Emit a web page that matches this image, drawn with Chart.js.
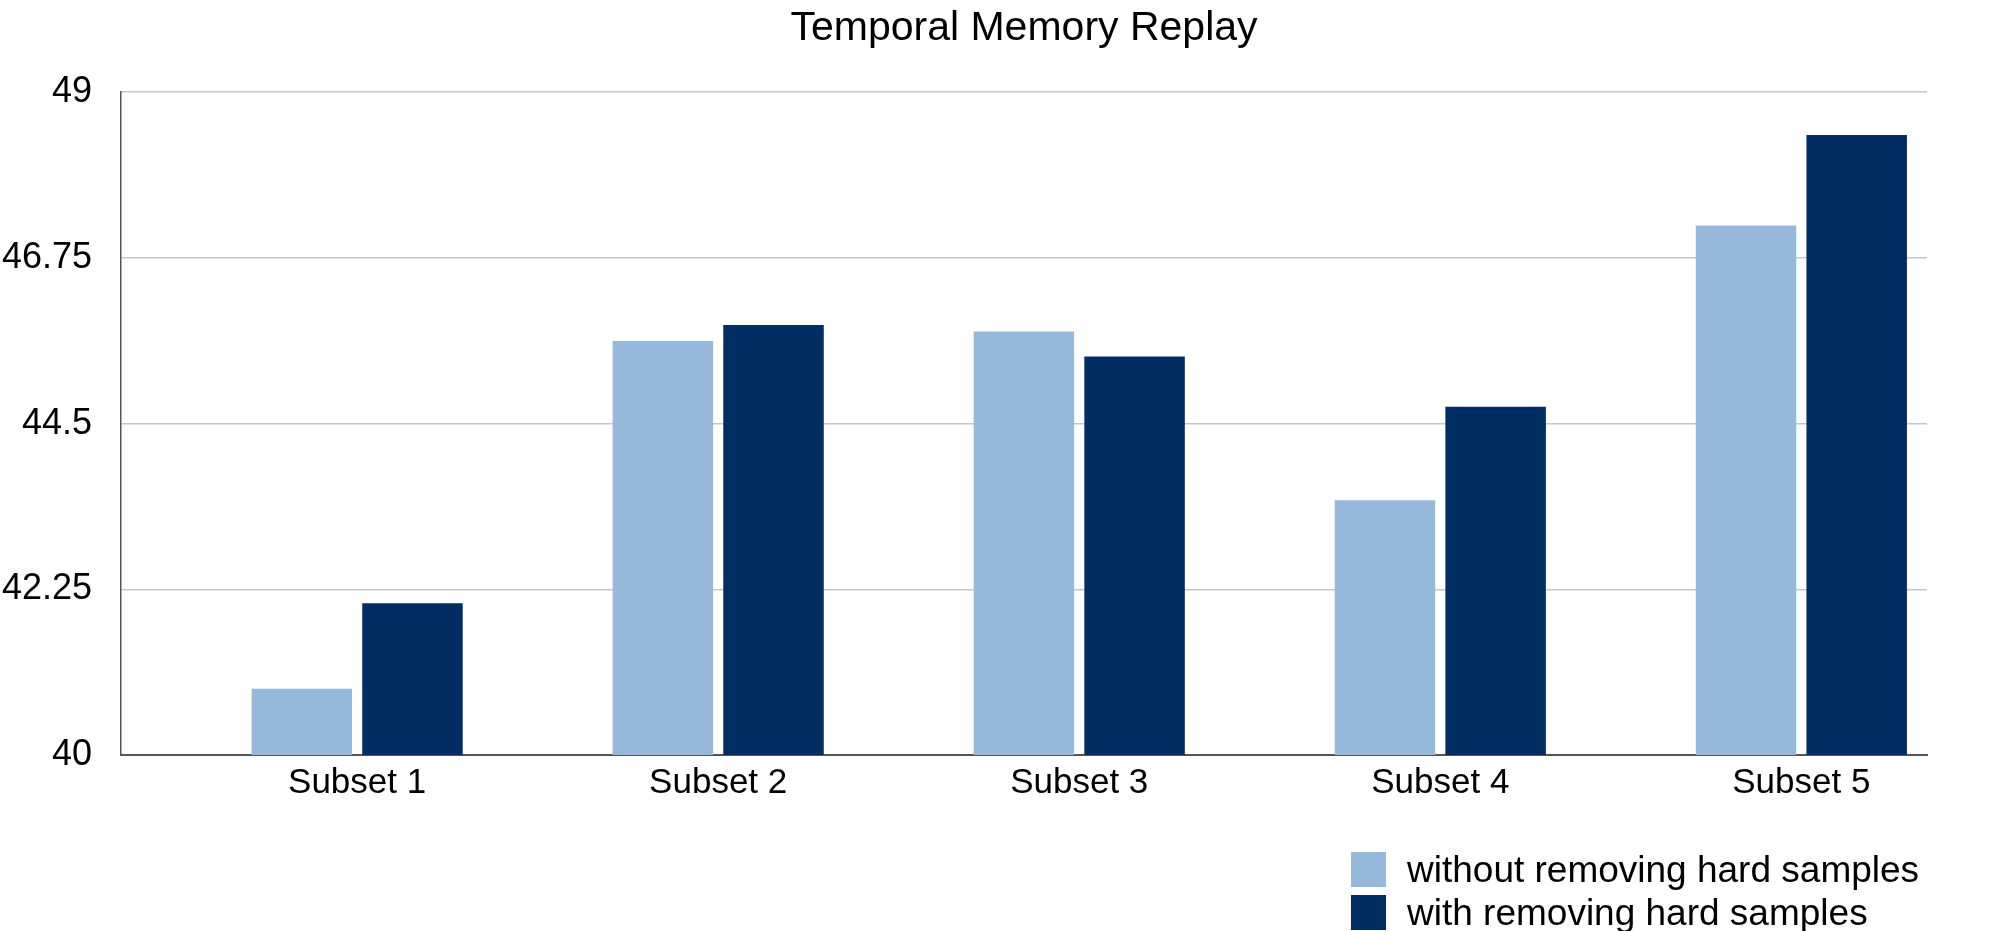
<!DOCTYPE html>
<html>
<head>
<meta charset="utf-8">
<title>Temporal Memory Replay</title>
<script src="https://cdn.jsdelivr.net/npm/chart.js@4.4.1/dist/chart.umd.min.js"></script>
<style>
  body { margin: 0; background: #fff; }
  #wrap { position: relative; width: 2000px; height: 931px; }
  #legend { position: absolute; left: 1351px; top: 848px; font-family: "Liberation Sans", Arial, Helvetica, sans-serif; font-size: 37px; color: #000; }
  #legend .item { display: flex; align-items: center; height: 43px; }
  #legend .box { width: 35px; height: 35px; margin-right: 21px; }
</style>
</head>
<body>
<div id="wrap">
  <canvas id="barChart" width="2000" height="931"></canvas>
  <div id="legend"></div>
</div>
<script>
  // data
  var categories = ['Subset 1', 'Subset 2', 'Subset 3', 'Subset 4', 'Subset 5'];
  var withoutRemoving = [40.90, 45.62, 45.75, 43.46, 47.19];
  var withRemoving = [42.06, 45.84, 45.41, 44.73, 48.42];
  var yTicks = [40, 42.25, 44.5, 46.75, 49];
  var seriesNames = ['without removing hard samples', 'with removing hard samples'];

  var FONT = '"Liberation Sans", Arial, Helvetica, sans-serif';

  function toPoints(values) {
    return values.map(function (v, i) { return { x: i, y: v }; });
  }

  var ctx = document.getElementById('barChart').getContext('2d');
  var chart = new Chart(ctx, {
    type: 'bar',
    data: {
      datasets: [{
        label: seriesNames[0],
        data: toPoints(withoutRemoving),
        backgroundColor: '#96b9db',
        categoryPercentage: 0.613,
        barPercentage: 0.908
      }, {
        label: seriesNames[1],
        data: toPoints(withRemoving),
        backgroundColor: '#002d62',
        categoryPercentage: 0.613,
        barPercentage: 0.908
      }]
    },
    options: {
      responsive: false,
      animation: false,
      layout: {
        padding: { left: 0, right: 73, top: 0, bottom: 120 }
      },
      plugins: {
        legend: { display: false }, // html legend below
        tooltip: { enabled: false },
        title: {
          display: true,
          fullSize: false, // centre over the plot, not the canvas
          text: 'Temporal Memory Replay',
          color: '#000',
          font: { family: FONT, size: 41, weight: 'normal' },
          padding: { top: 4, bottom: 39 }
        }
      },
      scales: {
        x: {
          type: 'linear',
          offset: false,
          min: -0.654,
          max: 4.348,
          grid: { display: false, drawTicks: false },
          border: { display: true, color: '#555', width: 2 },
          ticks: {
            stepSize: 1,
            includeBounds: false,
            autoSkip: false,
            maxRotation: 0,
            padding: 7,
            color: '#000',
            font: { family: FONT, size: 35 },
            callback: function (v) {
              return Number.isInteger(v) ? categories[v] : '';
            }
          }
        },
        y: {
          min: 40,
          max: 49,
          afterFit: function (scale) { scale.width = 121; },
          afterBuildTicks: function (scale) {
            scale.ticks = yTicks.map(function (v) { return { value: v }; });
          },
          grid: { color: '#c6c6c6', lineWidth: 1.5, drawTicks: false },
          border: { display: true, color: '#555', width: 1.5 },
          ticks: {
            padding: 29,
            color: '#000',
            font: { family: FONT, size: 36 },
            callback: function (v) { return String(v); }
          }
        }
      }
    }
  });

  // legend
  var legend = document.getElementById('legend');
  chart.data.datasets.forEach(function (ds) {
    var item = document.createElement('div');
    item.className = 'item';
    var box = document.createElement('span');
    box.className = 'box';
    box.style.background = ds.backgroundColor;
    var txt = document.createElement('span');
    txt.textContent = ds.label;
    item.appendChild(box);
    item.appendChild(txt);
    legend.appendChild(item);
  });
</script>
</body>
</html>
